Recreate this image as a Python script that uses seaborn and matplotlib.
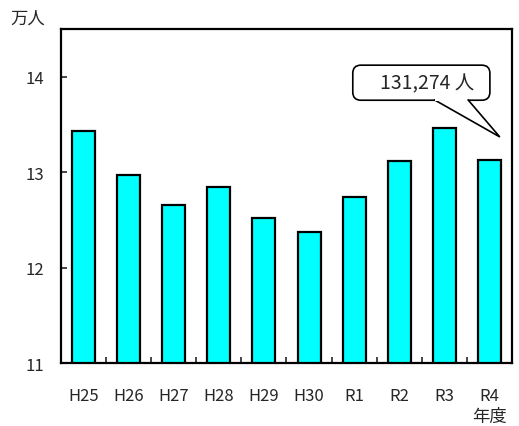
import pandas as pd
import seaborn as sns
import matplotlib.pyplot as plt
from matplotlib.ticker import FixedLocator
from matplotlib.patches import FancyBboxPatch, Polygon

# Data (unit: 10,000 people)
years = ["H25", "H26", "H27", "H28", "H29", "H30", "R1", "R2", "R3", "R4"]
values = [13.43, 12.97, 12.66, 12.85, 12.52, 12.37, 12.74, 13.12, 13.46, 13.1274]
yticks = [11, 12, 13, 14]
callout_text = "131,274 人"

df = pd.DataFrame({"year": years, "value": values})

sns.set_style("white")
plt.rcParams['font.family'] = ['Noto Sans CJK JP', 'DejaVu Sans']

fig = plt.figure(figsize=(5.19, 4.27), dpi=100)
ax = fig.add_axes([0.1175, 0.1475, 0.869, 0.782])

sns.barplot(data=df, x="year", y="value", color="#00FFFF", saturation=1,
            width=0.51, edgecolor="black", linewidth=1.6, ax=ax)

ax.set_xlim(-0.5, len(years) - 0.5)
ax.set_ylim(11, 14.5)
ax.set_yticks(yticks)
ax.set_xlabel("")
ax.set_ylabel("")

# spines and ticks
for s in ax.spines.values():
    s.set_visible(True)
    s.set_color("black")
    s.set_linewidth(1.6)
ax.tick_params(axis="y", direction="in", length=4, width=1.2, pad=12,
               labelsize=12, left=True)
ax.tick_params(axis="x", which="major", length=0, pad=17, labelsize=12)
ax.xaxis.set_minor_locator(FixedLocator([i + 0.5 for i in range(len(years) - 1)]))
ax.tick_params(axis="x", which="minor", direction="in", length=4, width=1.2, bottom=True)

# unit labels
fig.text(0.02, 0.955, "万人", fontsize=12.5, ha="left", va="center")
ax.text(9, -0.158, "年度", transform=ax.get_xaxis_transform(), fontsize=12.5,
        ha="center", va="center")

# callout bubble (axes fraction coords)
aspect = 451 / 334
box = FancyBboxPatch((0.647, 0.787), 0.304, 0.105, transform=ax.transAxes,
                     boxstyle="round,pad=0,rounding_size=0.018",
                     mutation_aspect=aspect, fc="white", ec="black", lw=1.2,
                     zorder=5, clip_on=False)
ax.add_patch(box)
tail = [(0.827, 0.789), (0.973, 0.677), (0.902, 0.789)]
ax.add_patch(Polygon(tail, closed=False, transform=ax.transAxes, fc="white",
                     ec="black", lw=1.2, zorder=6, clip_on=False))
ax.add_patch(Polygon([(0.829, 0.7915), (0.9, 0.7915), (0.9, 0.784), (0.829, 0.784)],
                     transform=ax.transAxes, fc="white", ec="none", zorder=7))
ax.text(0.812, 0.838, callout_text, transform=ax.transAxes, fontsize=14,
        ha="center", va="center", zorder=8)

fig.savefig("out.png", dpi=100)
